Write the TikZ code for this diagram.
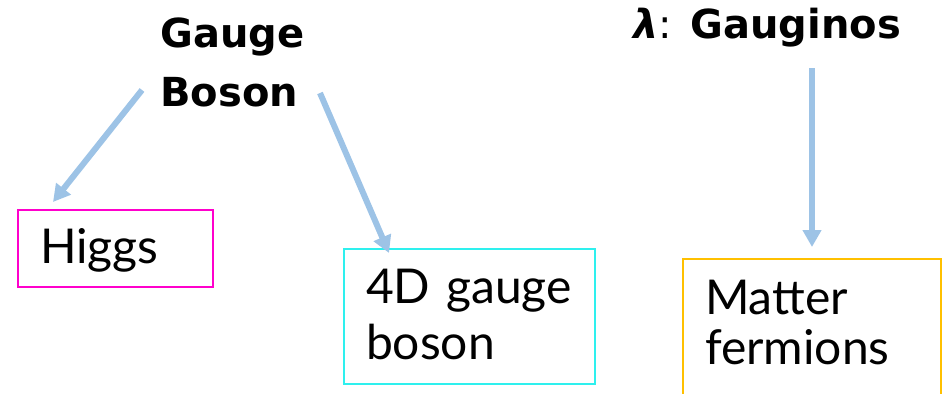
\documentclass[tikz,border=0pt]{standalone}
\usepackage{fontspec}
\usepackage{amsmath,amssymb}
\usepackage{tikz}
\usetikzlibrary{positioning, arrows.meta, calc}

\setmainfont{Lato}
\newfontfamily\headfont{DejaVu Sans}

\definecolor{arrowblue}{HTML}{9DC3E6}
\definecolor{higgsline}{HTML}{FF00CC}
\definecolor{gaugeline}{HTML}{2EF0EE}
\definecolor{matterline}{HTML}{FFC000}

\begin{document}
\begin{tikzpicture}[
  x=0.75pt, y=-0.75pt,
  head/.style={font=\headfont\bfseries\fontsize{30}{44}\selectfont,
    align=left, inner sep=0pt, anchor=base west},
  box/.style={draw, line width=1.5pt, inner xsep=16.5pt, inner ysep=0pt,
    anchor=north west, align=left, font=\fontsize{36}{42}\selectfont},
  arrow/.style={-{Triangle[length=12.75pt, width=13.5pt]},
    line width=4.5pt, arrowblue},
]
  \useasboundingbox (0,0) rectangle (949,393);

  % headings (base = last line)
  \node[head] (gb)  at (160,106) {Gauge\\Boson};
  \node[head] (lam) at (633,38) {\textit{λ}\textmd{:} Gauginos};

  % boxes
  \node[box, draw=higgsline, text width=113.25pt,
    text height=39.75pt, text depth=18pt] (higgs) at (17,209) {Higgs};
  \node[box, draw=gaugeline, text width=155.25pt,
    text height=40.5pt, text depth=60.75pt] (gauge4d) at (343,248)
    {4D gauge\\boson};
  \node[box, draw=matterline, text width=160.5pt,
    font=\fontsize{36}{37.5}\selectfont,
    text height=41.25pt, text depth=69pt] (matter) at (682,258)
    {Matter\\fermions};

  % arrows
  \draw[arrow] ($(gb.base west)+(-18,-16)$) -- ($(higgs.north west)+(36,-7)$);
  \draw[arrow] ($(gb.base west)+(160,-13)$) -- ($(gauge4d.north west)+(46,5)$);
  \draw[arrow] ($(lam.base west)+(179,30)$) -- ($(matter.north west)+(130,-11)$);
\end{tikzpicture}
\end{document}
